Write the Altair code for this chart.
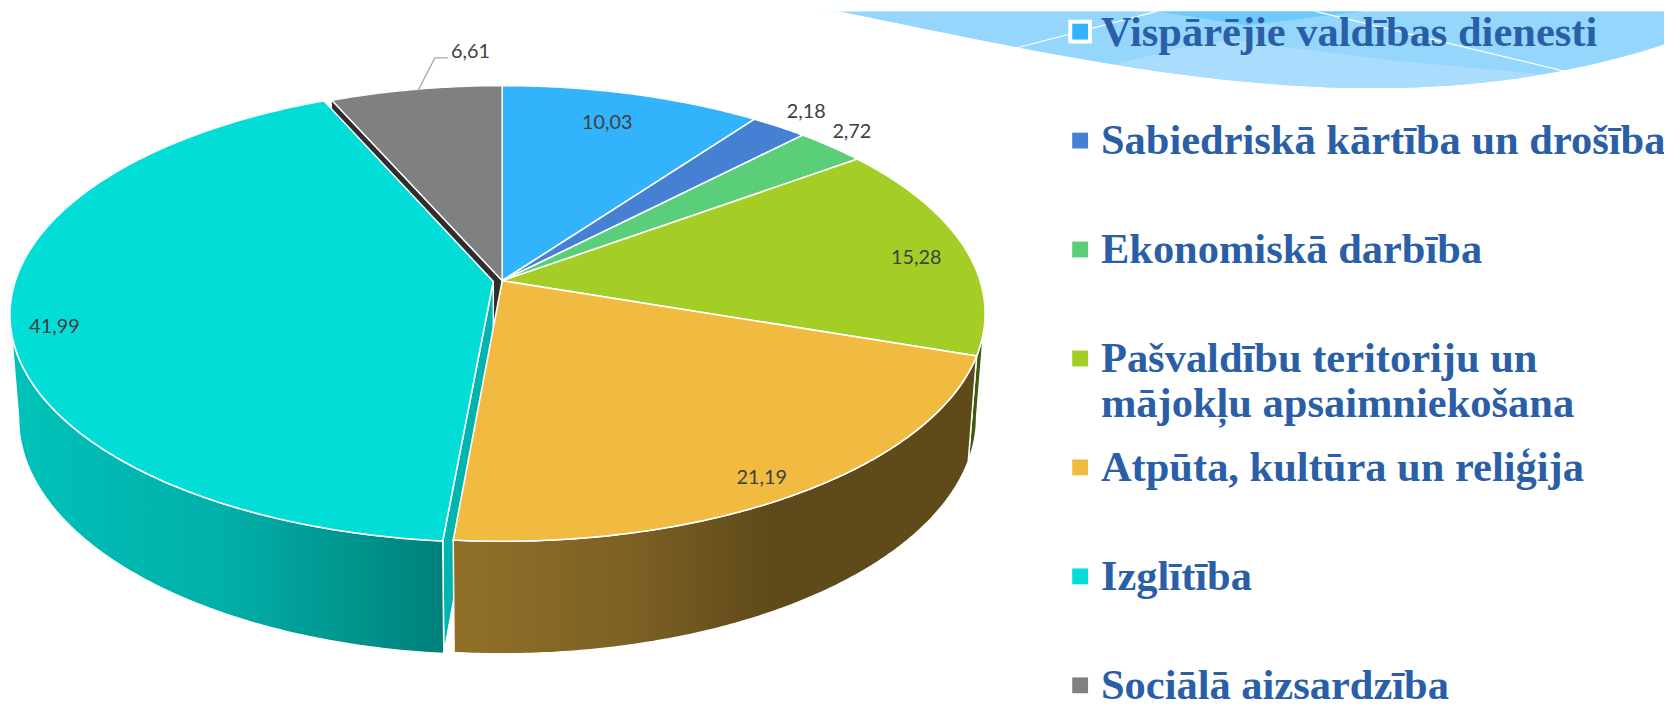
import math
import numpy as np
import altair as alt

# ---- data
categories = ["Vispārējie valdības dienesti", "Sabiedriskā kārtība un drošība", "Ekonomiskā darbība",
              "Pašvaldību teritoriju un\nmājokļu apsaimniekošana", "Atpūta, kultūra un reliģija",
              "Izglītība", "Sociālā aizsardzība"]
values = [10.03, 2.18, 2.72, 15.28, 21.19, 41.99, 6.61]
labels = ["10,03", "2,18", "2,72", "15,28", "21,19", "41,99", "6,61"]
colors = ["#33B3FB", "#4580D2", "#5ACE78", "#A4CE26", "#F0BB40", "#03DDD8", "#808080"]

# ---- layout (page pixels)
label_x = [605, 806, 852, 917, 761, 47, 467]
label_y = [121, 110, 130, 257, 479, 327, 49]
X0, Y0, A, B, K = 499.0, 280.0, 482.5, 225.3, 0.1435      # top disc
Y1, A2, B2 = 383.5, 474.0, 234.0                           # lower disc
CYAN_SHIFT = 0.019
TEXT_X, SQ_X, ROW0, ROW_H = 1103.5, 1082.5, 42.5, 110.0
OX, OY = 0, 8   # page position of the chart origin


def project(theta_deg, r=1.0, shift=(0.0, 0.0), lower=False):
    t = math.radians(theta_deg)
    u = r * math.sin(t) + shift[0]
    v = -r * math.cos(t) + shift[1]
    w = 1 - K * v
    if lower:
        return [X0 + A2 * u / w, Y1 + B2 * v / w]
    return [X0 + A * u / w, Y0 + B * v / w]


def arc(a, b, **kw):
    n = max(2, int(abs(b - a) * 2))
    return [project(a + (b - a) * i / n, **kw) for i in range(n + 1)]


def feat(coords, kind="Polygon"):
    geom = coords if kind == "LineString" else [coords + [coords[0]]]
    return {"type": "Feature", "properties": {}, "geometry": {"type": kind, "coordinates": geom}}


def shape(coords, kind="Polygon", **mark):
    return alt.Chart(alt.Data(values=[feat(coords, kind)])).mark_geoshape(**mark)


def grad(stops):
    return alt.Gradient(gradient="linear", x1=0, x2=1, y1=0, y2=0,
                        stops=[alt.GradientStop(offset=o, color=c) for o, c in stops])


cum = np.cumsum([0] + values) / sum(values) * 360
edges = [float(e) for e in cum]
bis = math.radians(edges[5] / 2 + edges[6] / 2)
shift = (CYAN_SHIFT * math.sin(bis), -CYAN_SHIFT * math.cos(bis))
sil_r, sil_l = 90 + math.degrees(math.asin(K)), 270 - math.degrees(math.asin(K))

# ---- decorative swoosh behind the legend
xs = np.array([800, 1018, 1328, 1574, 1680.0])
ys = np.array([0, 45, 83, 69, 38.0])
poly = np.polyfit(xs, ys, 3)
edge = lambda a, b: [[float(x), float(np.polyval(poly, x))] for x in np.linspace(a, b, 60)]
bg = [
    shape([[815, 8]] + edge(840, 1680) + [[1680, 8]], fill="#95D6FC", strokeWidth=0),
    shape([[1116, float(np.polyval(poly, 1116))], [1180, 46], [1235, 37], [1400, 58]] +
          edge(1550, 1116)[:-1], fill="#AADDFD", strokeWidth=0),
    shape([[1160, 8], [1250, 22], [1370, 8]], fill="#70C9FB", strokeWidth=0),
    shape([[1018, 45], [1160, 8]], kind="LineString", filled=False, stroke="white", strokeWidth=1.2),
    shape([[1320, 8], [1574, 69]], kind="LineString", filled=False, stroke="white", strokeWidth=1.2),
]

# ---- pie walls
W = dict(stroke="white", strokeWidth=1.5)
cy_a, cy_b = edges[5], edges[6]
walls = [
    shape(arc(sil_r, edges[4]) + arc(edges[4], sil_r, lower=True), fill="#3F5A12", **W),
    shape([project(edges[6]), [X0, Y0], [X0, Y1], project(edges[6], lower=True)], fill="#2E2E2E", strokeWidth=0),
    shape([project(cy_a, shift=shift), project(0, r=0, shift=shift), project(0, r=0, shift=shift, lower=True),
           project(cy_a, shift=shift, lower=True)], fill="#00B5AE", **W),
    shape(arc(cy_a, sil_l, shift=shift) + arc(sil_l, cy_a, shift=shift, lower=True),
          fill=grad([(0, "#00C2BA"), (0.5, "#00AFA8"), (1, "#00807A")]), **W),
    shape(arc(edges[4], edges[5]) + arc(edges[5], edges[4], lower=True),
          fill=grad([(0, "#927028"), (0.35, "#7B6024"), (0.6, "#5F4A1A"), (1, "#5F4A1A")]), **W),
]

# ---- pie tops
tops = []
for i, c in enumerate(colors):
    s = shift if i == 5 else (0.0, 0.0)
    pts = [project(0, r=0, shift=s)] + arc(edges[i], edges[i + 1], shift=s)
    tops.append(shape(pts, fill=c, stroke="white", strokeWidth=1.6))

# ---- leader and data labels
leader = shape([[414, 88], [431, 55], [444, 55]], kind="LineString", filled=False, stroke="#A6A6A6", strokeWidth=1.3)
lab_data = alt.Data(values=[{"t": t, "px": x - OX, "py": y - OY} for t, x, y in zip(labels, label_x, label_y)])
data_labels = alt.Chart(lab_data).mark_text(font="Lato", fontSize=20, color="#404040", baseline="middle", align="center").encode(
    x=alt.X("px:Q", scale=None, axis=None), y=alt.Y("py:Q", scale=None, axis=None), text="t:N")

# ---- legend
rows = [{"name": c, "col": k, "tx": TEXT_X - OX, "sx": SQ_X - OX,
         "ty": ROW0 + ROW_H * i - OY, "sy": ROW0 + ROW_H * i - 14 - OY}
        for i, (c, k) in enumerate(zip(categories, colors))]
leg_data = alt.Data(values=rows)
frame = alt.Chart(alt.Data(values=rows[:1])).mark_square(size=576, color="white", cornerRadius=3, opacity=1).encode(
    x=alt.X("sx:Q", scale=None, axis=None), y=alt.Y("sy:Q", scale=None, axis=None))
squares = alt.Chart(leg_data).mark_square(size=256, opacity=1).encode(
    x=alt.X("sx:Q", scale=None, axis=None), y=alt.Y("sy:Q", scale=None, axis=None),
    color=alt.Color("col:N", scale=None, legend=None))
texts = alt.Chart(leg_data).mark_text(font="Liberation Serif", fontWeight="bold", fontSize=42.9, color="#2A5FA8",
                                      align="left", baseline="alphabetic", lineHeight=45, lineBreak="\n").encode(
    x=alt.X("tx:Q", scale=None, axis=None), y=alt.Y("ty:Q", scale=None, axis=None), text="name:N")

geo_layers = [l.project(type="identity", scale=1, translate=[-OX, -OY]) for l in bg + walls + tops + [leader]]
chart = alt.layer(*geo_layers, data_labels, frame, squares, texts).properties(
    width=1672, height=697, padding=0, background="white",
    autosize=alt.AutoSizeParams(type="none"),
).configure_view(stroke=None)

chart.save("out.html", embed_options={"renderer": "svg", "actions": False})
